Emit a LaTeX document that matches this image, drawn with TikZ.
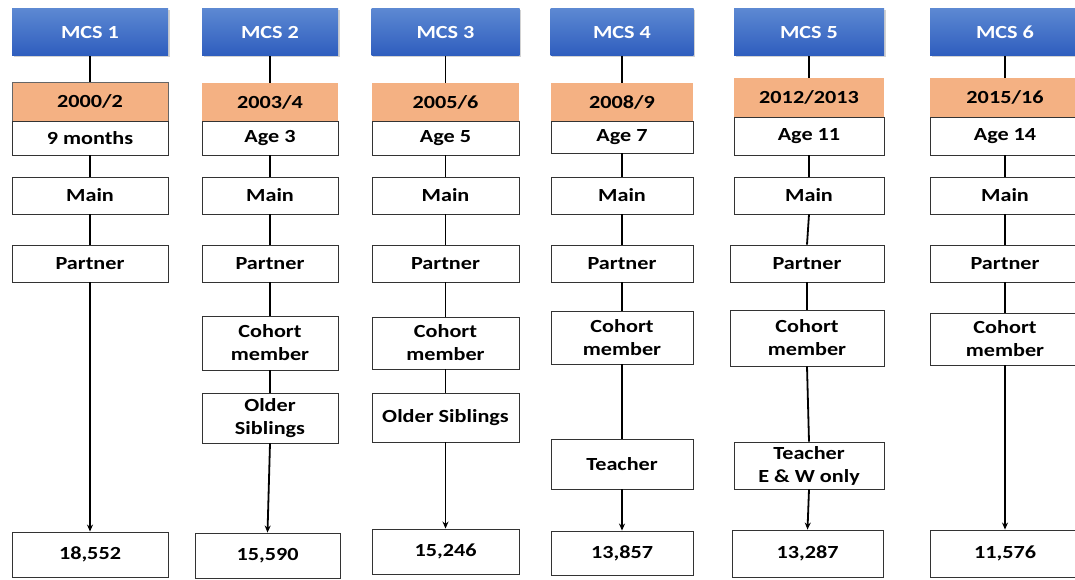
\documentclass[tikz,border=0pt]{standalone}
\usepackage{fontspec}
\setmainfont{Carlito}[FakeStretch=1.2]
\usetikzlibrary{arrows.meta, shadows}

\definecolor{azulSup}{RGB}{92,136,210}
\definecolor{azulInf}{RGB}{46,93,190}
\definecolor{naranja}{RGB}{244,177,131}

\tikzset{
    caja/.style={draw=black!80, fill=white, line width=0.9pt, inner sep=0pt, align=center,
        font=\fontsize{18.5}{23}\selectfont\bfseries},
    cabecera/.style={caja, draw=none, top color=azulSup, bottom color=azulInf, text=white,
        drop shadow={opacity=0.35, shadow xshift=1.5pt, shadow yshift=-1.5pt}},
    anio/.style={caja, draw=none, fill=naranja},
    linea/.style={line width=1.8pt, black},
    flecha/.style={linea, -{Stealth[length=7pt, width=6pt]}}
}

\begin{document}
\begin{tikzpicture}[x=1pt, y=-1pt]
    \fill[white] (0,0) rectangle (1075,580);
    \useasboundingbox (0,0) rectangle (1075,580);

    % MCS 1
    \node[cabecera, minimum width=156pt, minimum height=47pt] (mcs1) at (90,32.5) {MCS 1};
    \node[anio, draw=black!60, minimum width=156pt, minimum height=39pt] (anio1) at (90,101.5) {2000/2};
    \node[caja, minimum width=156pt, minimum height=34pt] (edad1) at (90,138) {9 months};
    \node[caja, minimum width=156pt, minimum height=37pt] (main1) at (90,195.5) {Main};
    \node[caja, minimum width=156pt, minimum height=37pt] (part1) at (90,263.5) {Partner};
    \node[caja, minimum width=156pt, minimum height=45pt] (tot1) at (90,554.5) {18,552};
    \draw[linea] (mcs1.south) -- (anio1.north);
    \draw[linea] (edad1.south) -- (main1.north);
    \draw[linea] (main1.south) -- (part1.north);
    \draw[flecha] (part1.south) -- (tot1.north);

    % MCS 2
    \node[cabecera, minimum width=136pt, minimum height=47pt] (mcs2) at (270,32.5) {MCS 2};
    \node[anio, minimum width=136pt, minimum height=38pt] (anio2) at (270,102) {2003/4};
    \node[caja, minimum width=136pt, minimum height=34pt] (edad2) at (270,138) {Age 3};
    \node[caja, minimum width=136pt, minimum height=37pt] (main2) at (270,195.5) {Main};
    \node[caja, minimum width=136pt, minimum height=37pt] (part2) at (270,263.5) {Partner};
    \node[caja, minimum width=136pt, minimum height=54pt] (coh2) at (270,343) {Cohort\\member};
    \node[caja, minimum width=136pt, minimum height=50pt] (herm2) at (270,418) {Older\\Siblings};
    \node[caja, minimum width=145pt, minimum height=45pt] (tot2) at (267.5,555.5) {15,590};
    \draw[linea] (mcs2.south) -- (anio2.north);
    \draw[linea] (edad2.south) -- (main2.north);
    \draw[linea] (main2.south) -- (part2.north);
    \draw[linea] (part2.south) -- (coh2.north);
    \draw[linea] (coh2.south) -- (herm2.north);
    \draw[flecha] (herm2.south) -- (tot2.north);

    % MCS 3
    \node[cabecera, minimum width=148pt, minimum height=47pt] (mcs3) at (445.5,32.5) {MCS 3};
    \node[anio, minimum width=147pt, minimum height=38pt] (anio3) at (445.5,102) {2005/6};
    \node[caja, minimum width=147pt, minimum height=34pt] (edad3) at (445.5,138) {Age 5};
    \node[caja, minimum width=147pt, minimum height=37pt] (main3) at (445.5,195.5) {Main};
    \node[caja, minimum width=147pt, minimum height=37pt] (part3) at (445.5,263.5) {Partner};
    \node[caja, minimum width=147pt, minimum height=52pt] (coh3) at (445.5,343) {Cohort\\member};
    \node[caja, minimum width=147pt, minimum height=49pt] (herm3) at (445.5,417.5) {Older Siblings};
    \node[caja, minimum width=147pt, minimum height=45pt] (tot3) at (445.5,551.5) {15,246};
    \draw[linea] (mcs3.south) -- (anio3.north);
    \draw[linea] (edad3.south) -- (main3.north);
    \draw[linea] (main3.south) -- (part3.north);
    \draw[linea] (part3.south) -- (coh3.north);
    \draw[linea] (coh3.south) -- (herm3.north);
    \draw[flecha] (herm3.south) -- (tot3.north);

    % MCS 4
    \node[cabecera, minimum width=143pt, minimum height=47pt] (mcs4) at (622,32.5) {MCS 4};
    \node[anio, minimum width=142pt, minimum height=38pt] (anio4) at (622,102) {2008/9};
    \node[caja, minimum width=142pt, minimum height=32pt] (edad4) at (622,137) {Age 7};
    \node[caja, minimum width=142pt, minimum height=37pt] (main4) at (622,195.5) {Main};
    \node[caja, minimum width=142pt, minimum height=37pt] (part4) at (622,263.5) {Partner};
    \node[caja, minimum width=142pt, minimum height=53pt] (coh4) at (622,337.5) {Cohort\\member};
    \node[caja, minimum width=142pt, minimum height=50pt] (prof4) at (622,464) {Teacher};
    \node[caja, minimum width=142pt, minimum height=44pt] (tot4) at (622,553) {13,857};
    \draw[linea] (mcs4.south) -- (anio4.north);
    \draw[linea] (edad4.south) -- (main4.north);
    \draw[linea] (main4.south) -- (part4.north);
    \draw[linea] (part4.south) -- (coh4.north);
    \draw[linea] (coh4.south) -- (prof4.north);
    \draw[flecha] (prof4.south) -- (tot4.north);

    % MCS 5
    \node[cabecera, minimum width=150pt, minimum height=47pt] (mcs5) at (809,32.5) {MCS 5};
    \node[anio, minimum width=150pt, minimum height=39pt] (anio5) at (809,97.5) {2012/2013};
    \node[caja, minimum width=150pt, minimum height=38pt] (edad5) at (809,136) {Age 11};
    \node[caja, minimum width=150pt, minimum height=37pt] (main5) at (809,195.5) {Main};
    \node[caja, minimum width=154pt, minimum height=37pt] (part5) at (807,263.5) {Partner};
    \node[caja, minimum width=154pt, minimum height=56pt] (coh5) at (807,338) {Cohort\\member};
    \node[caja, minimum width=150pt, minimum height=47pt] (prof5) at (809,465.5) {Teacher\\E \& W only};
    \node[caja, minimum width=151pt, minimum height=47pt] (tot5) at (807.5,553.5) {13,287};
    \draw[linea] (mcs5.south) -- (anio5.north);
    \draw[linea] (edad5.south) -- (main5.north);
    \draw[linea] (main5.south) -- (part5.north);
    \draw[linea] (part5.south) -- (coh5.north);
    \draw[linea] (coh5.south) -- (prof5.north);
    \draw[flecha] (prof5.south) -- (tot5.north);

    % MCS 6
    \node[cabecera, minimum width=150pt, minimum height=47pt] (mcs6) at (1005,32.5) {MCS 6};
    \node[anio, minimum width=150pt, minimum height=39pt] (anio6) at (1005,97.5) {2015/16};
    \node[caja, minimum width=150pt, minimum height=38pt] (edad6) at (1005,136) {Age 14};
    \node[caja, minimum width=150pt, minimum height=37pt] (main6) at (1005,195.5) {Main};
    \node[caja, minimum width=150pt, minimum height=37pt] (part6) at (1005,263.5) {Partner};
    \node[caja, minimum width=150pt, minimum height=52pt] (coh6) at (1005,339) {Cohort\\member};
    \node[caja, minimum width=150pt, minimum height=47pt] (tot6) at (1005,553.5) {11,576};
    \draw[linea] (mcs6.south) -- (anio6.north);
    \draw[linea] (edad6.south) -- (main6.north);
    \draw[linea] (main6.south) -- (part6.north);
    \draw[linea] (part6.south) -- (coh6.north);
    \draw[flecha] (coh6.south) -- (tot6.north);
\end{tikzpicture}
\end{document}
